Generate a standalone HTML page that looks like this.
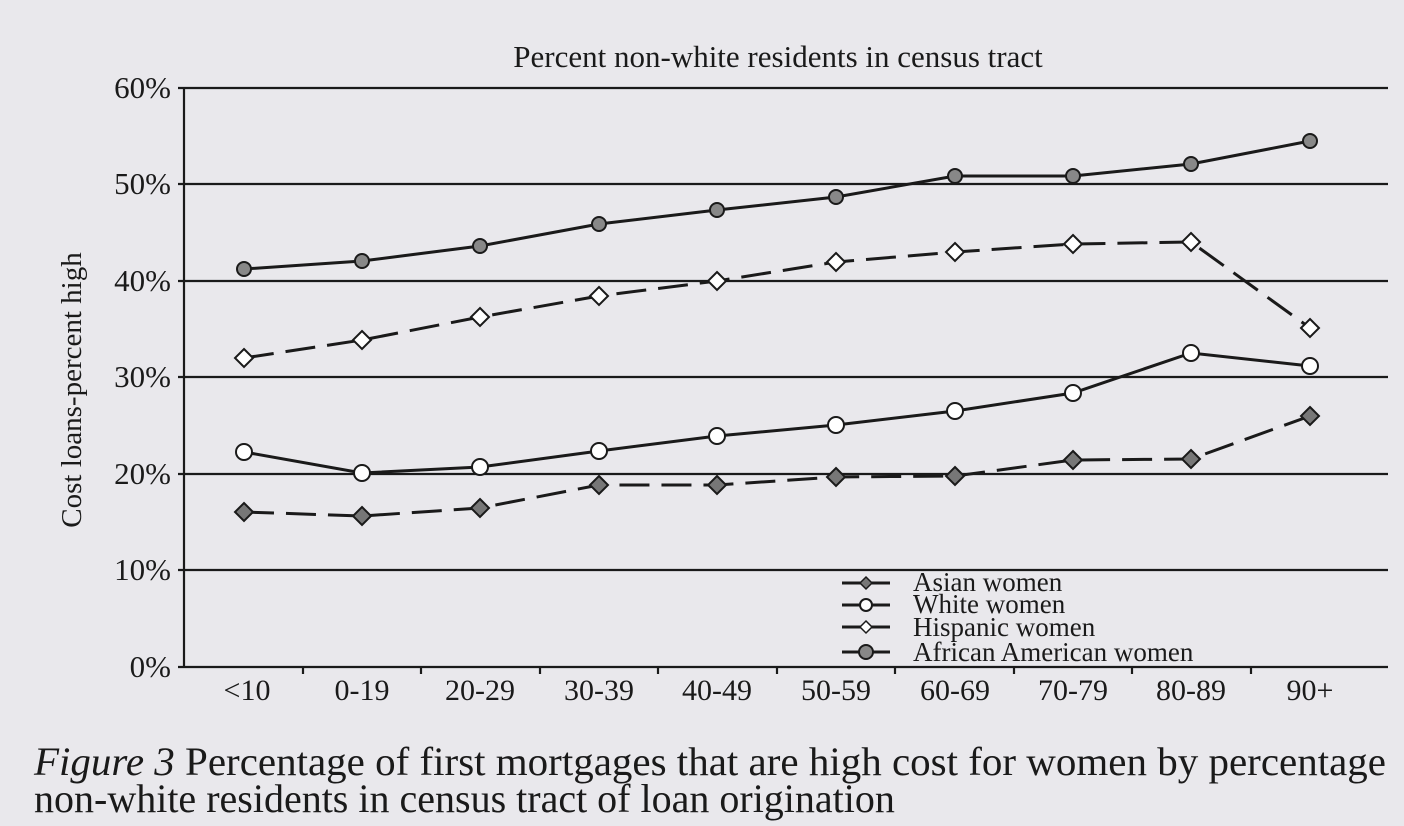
<!DOCTYPE html>
<html><head><meta charset="utf-8"><style>
html,body{margin:0;padding:0;background:#e9e8ec;}
svg{display:block}
text{font-family:"Liberation Serif",serif;fill:#1a1a1a}
</style></head><body>
<svg width="1404" height="826" viewBox="0 0 1404 826">
<rect width="1404" height="826" fill="#e9e8ec"/>
<text x="778" y="67" font-size="31" text-anchor="middle">Percent non-white residents in census tract</text>
<g stroke="#1a1a1a" stroke-width="2.2">
<line x1="178" y1="88" x2="1388" y2="88"/>
<line x1="178" y1="184" x2="1388" y2="184"/>
<line x1="178" y1="281" x2="1388" y2="281"/>
<line x1="178" y1="377" x2="1388" y2="377"/>
<line x1="178" y1="474" x2="1388" y2="474"/>
<line x1="178" y1="570" x2="1388" y2="570"/>
<line x1="178" y1="667" x2="1388" y2="667"/>
<line x1="184" y1="88" x2="184" y2="667"/>
<line x1="303" y1="667" x2="303" y2="674"/><line x1="421" y1="667" x2="421" y2="674"/>
<line x1="540" y1="667" x2="540" y2="674"/><line x1="658" y1="667" x2="658" y2="674"/>
<line x1="777" y1="667" x2="777" y2="674"/><line x1="895" y1="667" x2="895" y2="674"/>
<line x1="1014" y1="667" x2="1014" y2="674"/><line x1="1132" y1="667" x2="1132" y2="674"/>
<line x1="1251" y1="667" x2="1251" y2="674"/>
</g>
<g font-size="31" text-anchor="end">
<text x="171" y="98">60%</text><text x="171" y="194">50%</text><text x="171" y="291">40%</text>
<text x="171" y="387">30%</text><text x="171" y="484">20%</text><text x="171" y="580">10%</text>
<text x="171" y="677">0%</text>
</g>
<text transform="translate(81,390) rotate(-90)" font-size="29" text-anchor="middle">Cost loans-percent high</text>
<g font-size="30" text-anchor="middle">
<text x="247" y="700">&lt;10</text><text x="362" y="700">0-19</text><text x="480" y="700">20-29</text>
<text x="599" y="700">30-39</text><text x="717" y="700">40-49</text><text x="836" y="700">50-59</text>
<text x="955" y="700">60-69</text><text x="1073" y="700">70-79</text><text x="1191" y="700">80-89</text>
<text x="1310" y="700">90+</text>
</g>
<g fill="none" stroke="#1a1a1a" stroke-width="3">
<polyline points="244,269 362,261 480,246 599,224 717,210 836,197 955,176 1073,176 1191,164 1310,141"/>
<polyline stroke-dasharray="30,12" points="244,358 362,340 480,317 599,296 717,281 836,262 955,252 1073,244 1191,242 1310,328"/>
<polyline points="244,452 362,473 480,467 599,451 717,436 836,425 955,411 1073,393 1191,353 1310,366"/>
<polyline stroke-dasharray="30,12" points="244,512 362,516 480,508 599,485 717,485 836,477 955,476 1073,460 1191,459 1310,416"/>
</g>
<g fill="#888" stroke="#1a1a1a" stroke-width="2">
<circle cx="244" cy="269" r="7"/><circle cx="362" cy="261" r="7"/><circle cx="480" cy="246" r="7"/><circle cx="599" cy="224" r="7"/><circle cx="717" cy="210" r="7"/><circle cx="836" cy="197" r="7"/><circle cx="955" cy="176" r="7"/><circle cx="1073" cy="176" r="7"/><circle cx="1191" cy="164" r="7"/><circle cx="1310" cy="141" r="7"/>
</g>
<g fill="#fff" stroke="#1a1a1a" stroke-width="2">
<circle cx="244" cy="452" r="8"/><circle cx="362" cy="473" r="8"/><circle cx="480" cy="467" r="8"/><circle cx="599" cy="451" r="8"/><circle cx="717" cy="436" r="8"/><circle cx="836" cy="425" r="8"/><circle cx="955" cy="411" r="8"/><circle cx="1073" cy="393" r="8"/><circle cx="1191" cy="353" r="8"/><circle cx="1310" cy="366" r="8"/>
</g>
<g fill="#fff" stroke="#1a1a1a" stroke-width="2">
<path d="M244 349l9 9-9 9-9-9z"/><path d="M362 331l9 9-9 9-9-9z"/><path d="M480 308l9 9-9 9-9-9z"/><path d="M599 287l9 9-9 9-9-9z"/><path d="M717 272l9 9-9 9-9-9z"/><path d="M836 253l9 9-9 9-9-9z"/><path d="M955 243l9 9-9 9-9-9z"/><path d="M1073 235l9 9-9 9-9-9z"/><path d="M1191 233l9 9-9 9-9-9z"/><path d="M1310 319l9 9-9 9-9-9z"/>
</g>
<g fill="#777" stroke="#1a1a1a" stroke-width="2">
<path d="M244 503l9 9-9 9-9-9z"/><path d="M362 507l9 9-9 9-9-9z"/><path d="M480 499l9 9-9 9-9-9z"/><path d="M599 476l9 9-9 9-9-9z"/><path d="M717 476l9 9-9 9-9-9z"/><path d="M836 468l9 9-9 9-9-9z"/><path d="M955 467l9 9-9 9-9-9z"/><path d="M1073 451l9 9-9 9-9-9z"/><path d="M1191 450l9 9-9 9-9-9z"/><path d="M1310 407l9 9-9 9-9-9z"/>
</g>
<g stroke="#1a1a1a" stroke-width="3">
<line x1="842" y1="583" x2="890" y2="583"/><line x1="842" y1="605" x2="890" y2="605"/>
<line x1="842" y1="627" x2="890" y2="627"/><line x1="842" y1="652" x2="890" y2="652"/>
</g>
<path d="M866 577l6 6-6 6-6-6z" fill="#777" stroke="#1a1a1a" stroke-width="1.5"/>
<circle cx="866" cy="605" r="6" fill="#fff" stroke="#1a1a1a" stroke-width="2"/>
<path d="M866 621l6 6-6 6-6-6z" fill="#fff" stroke="#1a1a1a" stroke-width="1.5"/>
<circle cx="866" cy="652" r="7" fill="#888" stroke="#1a1a1a" stroke-width="2"/>
<g font-size="27">
<text x="913" y="591">Asian women</text><text x="913" y="613">White women</text>
<text x="913" y="636">Hispanic women</text><text x="913" y="661">African American women</text>
</g>
<text x="34" y="775" font-size="40" textLength="1352" lengthAdjust="spacingAndGlyphs"><tspan font-style="italic">Figure 3</tspan> Percentage of first mortgages that are high cost for women by percentage</text>
<text x="34" y="812" font-size="40">non-white residents in census tract of loan origination</text>
</svg>
</body></html>
